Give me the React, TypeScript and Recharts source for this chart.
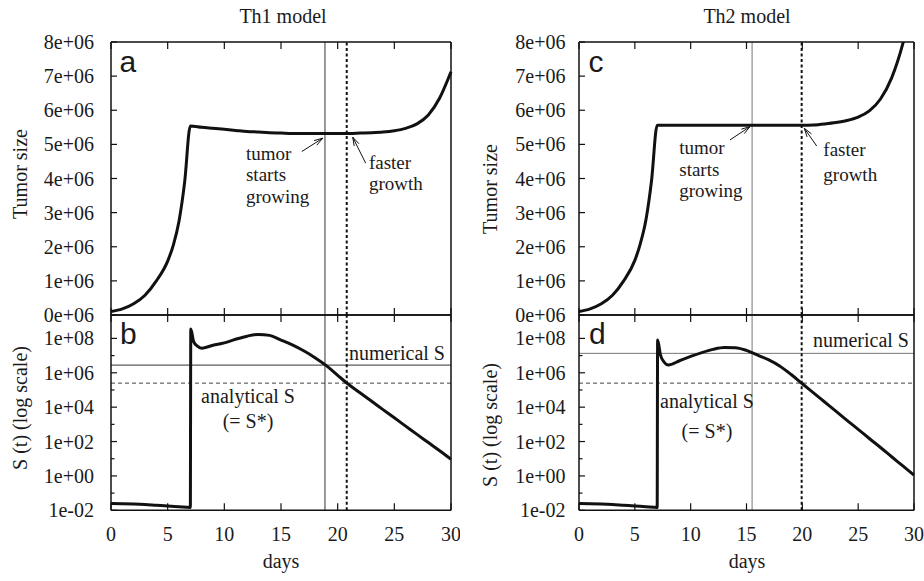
import {
  LineChart,
  Line,
  XAxis,
  YAxis,
  ReferenceLine,
  ReferenceDot,
} from "recharts"

const serif = "'Liberation Serif', 'Times New Roman', Times, serif"
const sans = "'Liberation Sans', Arial, Helvetica, sans-serif"
const ink = "#111"
const textInk = "#1a1a1a"

// tumor size (top panels)
const sizeDays = [0, 1, 2, 3, 4, 5, 5.5, 6, 6.5, 7, 8, 9, 10, 11, 12, 13, 14, 15, 16, 17, 18, 19, 20, 21, 22, 23, 24, 25, 26, 27, 28, 29, 30]
const th1Size = [
  0.1e6, 0.18e6, 0.33e6, 0.58e6, 1.0e6, 1.58e6, 2.05e6, 2.75e6, 3.9e6, 5.54e6,
  5.5e6, 5.47e6, 5.44e6, 5.41e6, 5.38e6, 5.36e6, 5.34e6, 5.33e6, 5.32e6, 5.32e6, 5.32e6, 5.32e6, 5.32e6,
  5.32e6, 5.33e6, 5.34e6, 5.36e6, 5.4e6, 5.47e6, 5.6e6, 5.86e6, 6.36e6, 7.13e6,
]
const th2Size = [
  0.1e6, 0.18e6, 0.33e6, 0.58e6, 1.0e6, 1.6e6, 2.1e6, 2.8e6, 3.95e6, 5.56e6,
  5.56e6, 5.56e6, 5.56e6, 5.56e6, 5.56e6, 5.56e6, 5.56e6, 5.56e6, 5.56e6, 5.56e6, 5.56e6, 5.56e6, 5.56e6,
  5.57e6, 5.6e6, 5.64e6, 5.7e6, 5.8e6, 5.98e6, 6.33e6, 6.95e6, 7.95e6, 9.4e6,
]

// S(t) (bottom panels, log scale)
const sDays = [0, 1, 2, 3, 4, 5, 6, 7, 7.04, 7.3, 7.6, 8, 9, 10, 11, 12, 13, 14, 15, 16, 17, 18, 19, 20, 21, 22, 23, 24, 25, 26, 27, 28, 29, 30]
const th1S = [
  0.0245, 0.024, 0.023, 0.0215, 0.0195, 0.0178, 0.016, 0.0145, 3.5e8, 6.3e7, 3.7e7,
  2.7e7, 4.0e7, 5.5e7, 8.9e7, 1.35e8, 1.7e8, 1.5e8, 8.0e7, 4.2e7, 1.9e7, 7.6e6, 2.6e6,
  7.1e5, 2.0e5, 6.6e4, 2.2e4, 7.2e3, 2.4e3, 790, 260, 87, 29, 9.3,
]
const th2S = [
  0.0245, 0.024, 0.023, 0.0215, 0.0195, 0.0178, 0.016, 0.0145, 8.0e7, 1.07e7, 4.4e6,
  2.8e6, 5.0e6, 8.9e6, 1.5e7, 2.3e7, 2.95e7, 2.9e7, 2.0e7, 1.05e7, 5.6e6, 2.4e6, 7.9e5,
  2.3e5, 6.8e4, 2.0e4, 5.9e3, 1.7e3, 510, 150, 45, 13, 3.8, 1.1,
]

// markers
const th1Onset = 18.88
const th1Faster = 20.8
const th2Onset = 15.5
const th2Faster = 19.94
const th1NumericalS = 2.8e6
const th2NumericalS = 1.35e7
const analyticalS = 2.5e5

// ticks
const dayTicks = [0, 5, 10, 15, 20, 25, 30]
const dayTickLabels = ["0", "5", "10", "15", "20", "25", "30"]
const sizeTicks = [0, 1e6, 2e6, 3e6, 4e6, 5e6, 6e6, 7e6, 8e6]
const sizeTickLabels = ["0e+06", "1e+06", "2e+06", "3e+06", "4e+06", "5e+06", "6e+06", "7e+06", "8e+06"]
const logTicks = [1e-2, 1e-1, 1, 1e1, 1e2, 1e3, 1e4, 1e5, 1e6, 1e7, 1e8]
const logTickLabels = ["1e-02", "", "1e+00", "", "1e+02", "", "1e+04", "", "1e+06", "", "1e+08"]

type Note = { x: number; y: number; lines: string[]; gap?: number; anchor?: "start" | "middle" | "end"; font?: string; size?: number }
type Arrow = { from: [number, number]; to: [number, number] }

const th1SizeNotes: Note[] = [
  { x: 0.75, y: 7.13e6, lines: ["a"], font: sans, size: 30 },
  { x: 11.91, y: 4.55e6, lines: ["tumor", "starts", "growing"], gap: 21.5, size: 19 },
  { x: 22.76, y: 4.28e6, lines: ["faster", "growth"], gap: 21.5, size: 19 },
]
const th1SizeArrows: Arrow[] = [
  { from: [16.83, 4.79e6], to: [18.68, 5.18e6] },
  { from: [22.47, 4.45e6], to: [21.33, 5.21e6] },
]
const th2SizeNotes: Note[] = [
  { x: 0.85, y: 7.13e6, lines: ["c"], font: sans, size: 30 },
  { x: 8.98, y: 4.71e6, lines: ["tumor", "starts", "growing"], gap: 21.5, size: 19 },
  { x: 21.88, y: 4.66e6, lines: ["faster", "growth"], gap: 25.5, size: 19 },
]
const th2SizeArrows: Arrow[] = [
  { from: [13.52, 5.13e6], to: [15.31, 5.52e6] },
  { from: [21.29, 4.95e6], to: [20.18, 5.47e6] },
]
const th1SNotes: Note[] = [
  { x: 0.8, y: 4.5e7, lines: ["b"], font: sans, size: 30 },
  { x: 29.47, y: 5.45e6, lines: ["numerical S"], anchor: "end" },
  { x: 12.09, y: 1.64e4, lines: ["analytical S", "(= S*)"], gap: 24.5, anchor: "middle" },
]
const th2SNotes: Note[] = [
  { x: 0.9, y: 4.5e7, lines: ["d"], font: sans, size: 30 },
  { x: 29.55, y: 3.24e7, lines: ["numerical S"], anchor: "end" },
  { x: 11.46, y: 8.4e3, lines: ["analytical S", "(= S*)"], gap: 29.5, anchor: "middle" },
]

const axisLine = { stroke: ink, strokeWidth: 1.5 }
const serifText = { fontFamily: serif, fontSize: 20 }

function leftTick(ticks: number[], labels: string[], gap: number) {
  return (p: any) => {
    const label = labels[ticks.indexOf(p.payload.value)]
    const len = label ? 6 : 3.5
    return (
      <g>
        <line x1={p.x} x2={p.x + len} y1={p.y} y2={p.y} stroke={ink} strokeWidth={1.2} />
        {label ? (
          <text x={p.x - gap} y={p.y} dy="0.35em" textAnchor="end" fill={textInk} style={serifText}>
            {label}
          </text>
        ) : null}
      </g>
    )
  }
}

function rightTick(ticks: number[], labels: string[]) {
  return (p: any) => {
    const len = labels[ticks.indexOf(p.payload.value)] ? 6 : 3.5
    return <line x1={p.x} x2={p.x - len} y1={p.y} y2={p.y} stroke={ink} strokeWidth={1.2} />
  }
}

function bottomTick(withLabels: boolean) {
  return (p: any) => (
    <g>
      <line x1={p.x} x2={p.x} y1={p.y} y2={p.y - 7} stroke={ink} strokeWidth={1.2} />
      {withLabels ? (
        <text x={p.x} y={p.y + 30.4} textAnchor="middle" fill={textInk} style={serifText}>
          {dayTickLabels[dayTicks.indexOf(p.payload.value)]}
        </text>
      ) : null}
    </g>
  )
}

function topTick(p: any) {
  return <line x1={p.x} x2={p.x} y1={p.y} y2={p.y + 7} stroke={ink} strokeWidth={1.2} />
}

function noteShape(n: Note) {
  return (p: any) => (
    <text
      x={p.cx}
      y={p.cy}
      textAnchor={n.anchor ?? "start"}
      fill={textInk}
      style={{ fontFamily: n.font ?? serif, fontSize: n.size ?? 20 }}
    >
      {n.lines.map((l, i) => (
        <tspan key={i} x={p.cx} dy={i === 0 ? 0 : n.gap}>
          {l}
        </tspan>
      ))}
    </text>
  )
}

function arrowShape(p: any) {
  const { x1, y1, x2, y2 } = p
  const a = Math.atan2(y2 - y1, x2 - x1)
  const L = 9
  const s = 0.3
  const hx1 = x2 - L * Math.cos(a - s)
  const hy1 = y2 - L * Math.sin(a - s)
  const hx2 = x2 - L * Math.cos(a + s)
  const hy2 = y2 - L * Math.sin(a + s)
  return (
    <g>
      <line x1={x1} y1={y1} x2={x2} y2={y2} stroke={ink} strokeWidth={1} />
      <path d={`M${hx1},${hy1}L${x2},${y2}L${hx2},${hy2}`} fill="none" stroke={ink} strokeWidth={1} />
    </g>
  )
}

function renderNotes(notes: Note[]) {
  return notes.map((n, i) => (
    <ReferenceDot key={"n" + i} x={n.x} y={n.y} r={0} shape={noteShape(n)} />
  ))
}

function renderArrows(arrows: Arrow[]) {
  return arrows.map((a, i) => (
    <ReferenceLine
      key={"a" + i}
      segment={[{ x: a.from[0], y: a.from[1] }, { x: a.to[0], y: a.to[1] }]}
      shape={arrowShape}
    />
  ))
}

function SizePanel({
  left, yWidth, right, gap, days, values, onset, faster, onsetColor, notes, arrows,
}: {
  left: number; yWidth: number; right: number; gap: number; days: number[]; values: number[]
  onset: number; faster: number; onsetColor: string; notes: Note[]; arrows: Arrow[]
}) {
  const data = days.map((day, i) => ({ day, size: values[i] }))
  return (
    <div style={{ position: "absolute", left, top: 0 }}>
      <LineChart width={460} height={325} data={data} margin={{ top: 41, right, bottom: 9, left: 0 }}>
        <XAxis dataKey="day" type="number" domain={[0, 30]} ticks={dayTicks} interval={0} height={1}
          tickSize={0} tickMargin={0} tickLine={false} axisLine={axisLine} tick={bottomTick(false)} />
        <XAxis xAxisId="top" orientation="top" dataKey="day" type="number" domain={[0, 30]} ticks={dayTicks}
          interval={0} height={1} tickSize={0} tickMargin={0} tickLine={false} axisLine={axisLine} tick={topTick} />
        <YAxis type="number" domain={[0, 8e6]} allowDataOverflow ticks={sizeTicks} interval={0} width={yWidth}
          tickSize={0} tickMargin={0} tickLine={false} axisLine={axisLine} tick={leftTick(sizeTicks, sizeTickLabels, gap)} />
        <YAxis yAxisId="right" orientation="right" type="number" domain={[0, 8e6]} ticks={sizeTicks} interval={0}
          width={1} tickSize={0} tickMargin={0} tickLine={false} axisLine={axisLine} tick={rightTick(sizeTicks, sizeTickLabels)} />
        <ReferenceLine x={onset} stroke={onsetColor} strokeWidth={1} />
        <ReferenceLine x={faster} stroke={ink} strokeWidth={2} strokeDasharray="3 2.5" />
        <Line dataKey="size" type="monotoneX" stroke={ink} strokeWidth={3} dot={false} isAnimationActive={false} />
        {renderArrows(arrows)}
        {renderNotes(notes)}
      </LineChart>
    </div>
  )
}

function SPanel({
  left, yWidth, right, gap, days, values, onset, faster, onsetColor, numerical, notes,
}: {
  left: number; yWidth: number; right: number; gap: number; days: number[]; values: number[]
  onset: number; faster: number; onsetColor: string; numerical: number; notes: Note[]
}) {
  const data = days.map((day, i) => ({ day, s: values[i] }))
  return (
    <div style={{ position: "absolute", left, top: 305 }}>
      <LineChart width={460} height={276} data={data} margin={{ top: 9, right, bottom: 0, left: 0 }}>
        <XAxis dataKey="day" type="number" domain={[0, 30]} ticks={dayTicks} interval={0} height={70.7}
          tickSize={0} tickMargin={0} tickLine={false} axisLine={axisLine} tick={bottomTick(true)} />
        <XAxis xAxisId="top" orientation="top" dataKey="day" type="number" domain={[0, 30]} ticks={dayTicks}
          interval={0} height={1} tickSize={0} tickMargin={0} tickLine={false} axisLine={axisLine} tick={topTick} />
        <YAxis type="number" scale="log" domain={[0.01, 2.3e9]} allowDataOverflow ticks={logTicks} interval={0}
          width={yWidth} tickSize={0} tickMargin={0} tickLine={false} axisLine={axisLine}
          tick={leftTick(logTicks, logTickLabels, gap)} />
        <YAxis yAxisId="right" orientation="right" type="number" scale="log" domain={[0.01, 2.3e9]} ticks={logTicks}
          interval={0} width={1} tickSize={0} tickMargin={0} tickLine={false} axisLine={axisLine}
          tick={rightTick(logTicks, logTickLabels)} />
        <ReferenceLine y={numerical} stroke={onsetColor} strokeWidth={1} />
        <ReferenceLine y={analyticalS} stroke="#444" strokeWidth={1} strokeDasharray="4 3" />
        <ReferenceLine x={onset} stroke={onsetColor} strokeWidth={1} />
        <ReferenceLine x={faster} stroke={ink} strokeWidth={2} strokeDasharray="3 2.5" />
        <Line dataKey="s" type="monotoneX" stroke={ink} strokeWidth={3} dot={false} isAnimationActive={false} />
        {renderNotes(notes)}
      </LineChart>
    </div>
  )
}

export default function App() {
  const label = { fill: textInk, style: serifText }
  return (
    <div style={{ position: "absolute", left: 0, top: 0, width: 924, height: 581, background: "#fff", overflow: "hidden", fontFamily: serif }}>
      <svg width={924} height={581} style={{ position: "absolute", left: 0, top: 0 }}>
        <text x={283} y={22.7} textAnchor="middle" {...label}>Th1 model</text>
        <text x={747} y={22.7} textAnchor="middle" {...label}>Th2 model</text>
        <text transform="translate(26.7,174) rotate(-90)" textAnchor="middle" {...label}>Tumor size</text>
        <text transform="translate(26.7,408) rotate(-90)" textAnchor="middle" {...label}>S (t) (log scale)</text>
        <text transform="translate(497,189) rotate(-90)" textAnchor="middle" {...label}>Tumor size</text>
        <text transform="translate(497,425) rotate(-90)" textAnchor="middle" {...label}>S (t) (log scale)</text>
        <text x={281} y={568} textAnchor="middle" {...label}>days</text>
        <text x={747} y={568} textAnchor="middle" {...label}>days</text>
      </svg>

      <SizePanel left={0} yWidth={111} right={8} gap={17} days={sizeDays} values={th1Size}
        onset={th1Onset} faster={th1Faster} onsetColor="#333" notes={th1SizeNotes} arrows={th1SizeArrows} />
      <SPanel left={0} yWidth={111} right={8} gap={17} days={sDays} values={th1S}
        onset={th1Onset} faster={th1Faster} onsetColor="#333" numerical={th1NumericalS} notes={th1SNotes} />

      <SizePanel left={464} yWidth={115} right={9} gap={13.5} days={sizeDays} values={th2Size}
        onset={th2Onset} faster={th2Faster} onsetColor="#777" notes={th2SizeNotes} arrows={th2SizeArrows} />
      <SPanel left={464} yWidth={115} right={9} gap={13.5} days={sDays} values={th2S}
        onset={th2Onset} faster={th2Faster} onsetColor="#777" numerical={th2NumericalS} notes={th2SNotes} />
    </div>
  )
}
